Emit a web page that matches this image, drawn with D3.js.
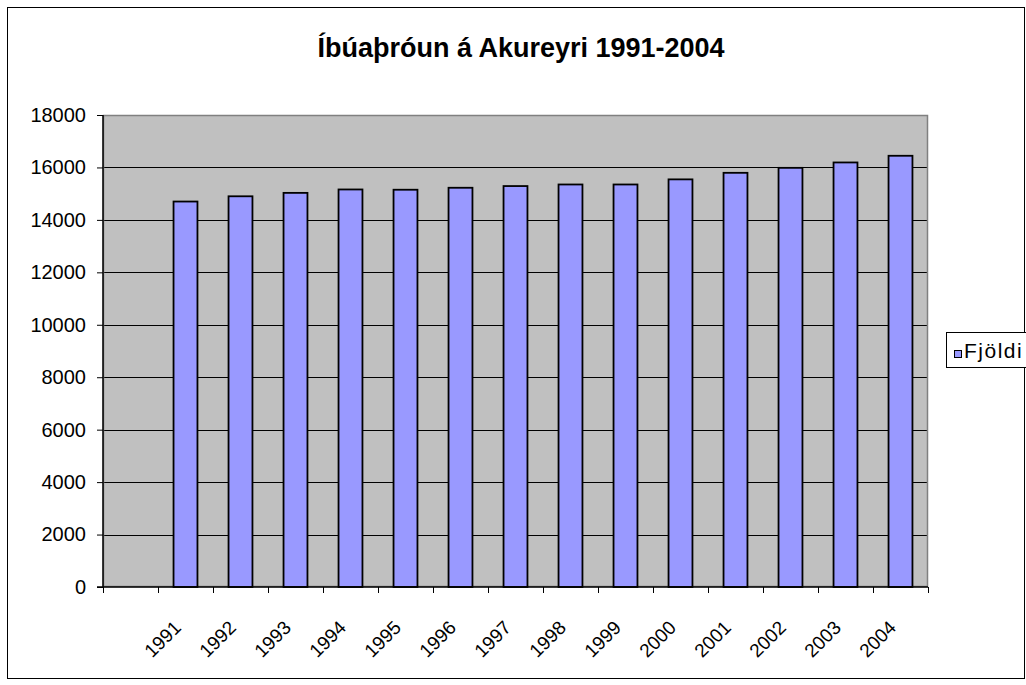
<!DOCTYPE html>
<html>
<head>
<meta charset="utf-8">
<script src="https://cdn.jsdelivr.net/npm/d3@7"></script>
<style>
  body { margin: 0; background: #fff; }
  svg { display: block; font-family: "Liberation Sans", Arial, sans-serif; }
</style>
</head>
<body>
<svg id="chart" width="1026" height="685"></svg>
<script>
// first slot of the category axis is empty in the original
var categories = ["", "1991", "1992", "1993", "1994", "1995", "1996", "1997",
                  "1998", "1999", "2000", "2001", "2002", "2003", "2004"];
var values = [null, 14700, 14900, 15030, 15160, 15150, 15225, 15290,
              15350, 15350, 15545, 15795, 15985, 16190, 16445];
var yTicks = [0, 2000, 4000, 6000, 8000, 10000, 12000, 14000, 16000, 18000];
var seriesName = "Fjöldi";
var title = "Íbúaþróun á Akureyri 1991-2004";

var svg = d3.select("#chart");

// outer chart frame
svg.append("rect")
  .attr("x", 7.5).attr("y", 7.5)
  .attr("width", 1017).attr("height", 671)
  .attr("fill", "#fff")
  .attr("stroke", "#000");

svg.append("text")
  .attr("x", 521).attr("y", 57)
  .attr("text-anchor", "middle")
  .attr("font-size", 27)
  .attr("font-weight", "bold")
  .text(title);

var margin = {top: 115, left: 103};
var width = 825, height = 472;

var g = svg.append("g").attr("transform", "translate(" + margin.left + "," + margin.top + ")");

var x = d3.scaleBand()
  .domain(categories)
  .range([0, width])
  .paddingInner(0.565)
  .paddingOuter(0.2825);

var y = d3.scaleLinear()
  .domain([0, 18000])
  .range([height, 0]);

g.append("rect")
  .attr("width", width).attr("height", height)
  .attr("fill", "#c0c0c0");

// gridlines
g.append("g")
  .selectAll("line")
  .data(yTicks.filter(function(d){ return d > 0 && d < 18000; }))
  .enter().append("line")
    .attr("x1", 0).attr("x2", width)
    .attr("y1", function(d){ return Math.round(y(d)) + 0.5; })
    .attr("y2", function(d){ return Math.round(y(d)) + 0.5; })
    .attr("stroke", "#000");

// plot border
g.append("rect")
  .attr("x", 0.5).attr("y", 0.5)
  .attr("width", width - 1).attr("height", height - 1)
  .attr("fill", "none")
  .attr("stroke", "#808080")
  .attr("stroke-width", 1.5);

// bars
g.selectAll(".bar")
  .data(categories.map(function(c, i){ return {cat: c, value: values[i]}; })
        .filter(function(d){ return d.value != null; }))
  .enter().append("rect")
    .attr("class", "bar")
    .attr("x", function(d){ return x(d.cat); })
    .attr("y", function(d){ return y(d.value); })
    .attr("width", x.bandwidth())
    .attr("height", function(d){ return height - y(d.value); })
    .attr("fill", "#9999ff")
    .attr("stroke", "#000")
    .attr("stroke-width", 1.8);

// y axis
var yAxis = g.append("g")
  .call(d3.axisLeft(y).tickValues(yTicks).tickSize(6).tickPadding(11).tickFormat(d3.format("d")));
yAxis.select(".domain").attr("stroke", "#000").attr("stroke-width", 1.5).attr("d", "M0," + height + "V0");
yAxis.selectAll(".tick line").attr("stroke", "#000");
yAxis.selectAll("text").attr("font-size", 20).attr("fill", "#000")
  .attr("font-family", "Liberation Sans, Arial, sans-serif");

// x axis: ticks between categories
var step = x.step();
var xAxis = g.append("g").attr("transform", "translate(0," + height + ")");
xAxis.append("line")
  .attr("x1", -6).attr("x2", width)
  .attr("stroke", "#000").attr("stroke-width", 1.5);
xAxis.selectAll(".xtick")
  .data(d3.range(categories.length + 1))
  .enter().append("line")
    .attr("class", "xtick")
    .attr("x1", function(i){ return Math.round(i * step) + 0.5; })
    .attr("x2", function(i){ return Math.round(i * step) + 0.5; })
    .attr("y1", 0).attr("y2", 6)
    .attr("stroke", "#000");
xAxis.selectAll(".xlabel")
  .data(categories.filter(function(c){ return c !== ""; }))
  .enter().append("text")
    .attr("class", "xlabel")
    .attr("text-anchor", "end")
    .attr("font-size", 19)
    .attr("dy", "0.35em")
    .attr("transform", function(d){
      return "translate(" + (x(d) + x.bandwidth() / 2 - 8) + ",37) rotate(-45)";
    })
    .text(function(d){ return d; });

// legend
var legend = svg.append("g").attr("transform", "translate(946,332)");
legend.append("rect")
  .attr("x", 0.5).attr("y", 0.5)
  .attr("width", 100).attr("height", 35)
  .attr("fill", "#fff")
  .attr("stroke", "#000");
legend.append("rect")
  .attr("x", 8.5).attr("y", 18.5)
  .attr("width", 7).attr("height", 7)
  .attr("fill", "#9999ff")
  .attr("stroke", "#000");
legend.append("text")
  .attr("x", 18).attr("y", 26)
  .attr("font-size", 21)
  .attr("letter-spacing", 1.5)
  .text(seriesName);
</script>
</body>
</html>
